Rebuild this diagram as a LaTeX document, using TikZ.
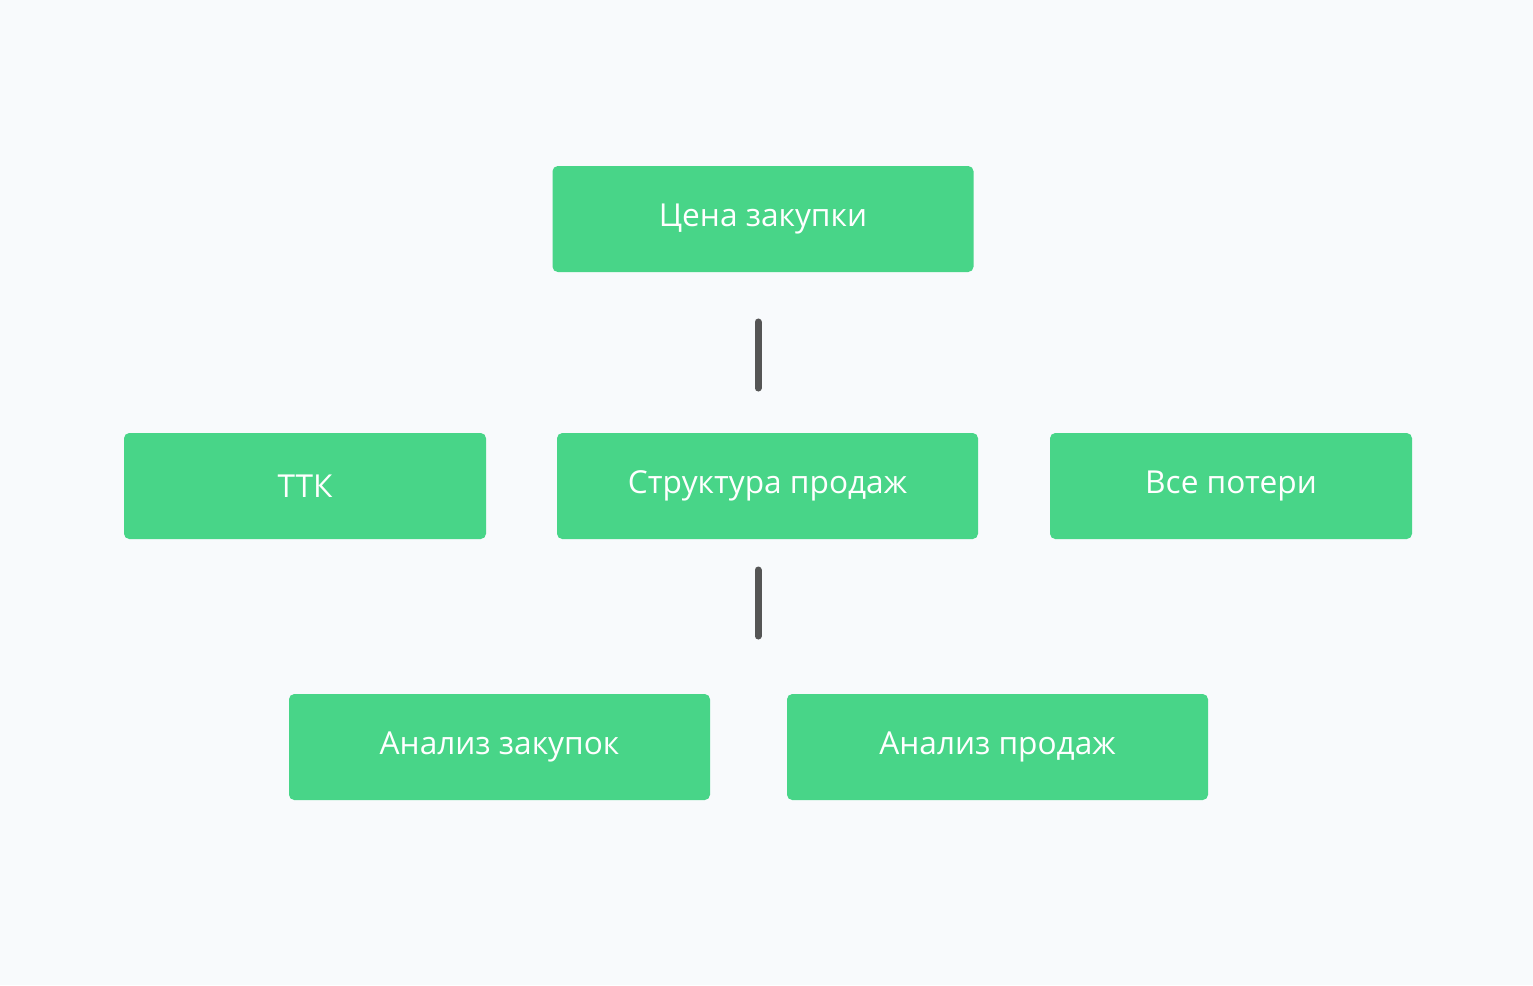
\documentclass[tikz,border=0pt]{standalone}
\usepackage{fontspec}
\setmainfont{Open Sans}
\definecolor{boxgreen}{HTML}{48D588}
\definecolor{bggray}{HTML}{F8FAFC}
\definecolor{stemgray}{HTML}{555555}
\begin{document}
\begin{tikzpicture}[
    x=0.02cm, y=-0.02cm,
    every node/.style={
        font=\fontsize{18}{20}\selectfont,
        text=white,
        fill=boxgreen,
        rounded corners=3pt,
        inner sep=0pt,
        minimum width=421*0.02cm,
        minimum height=106*0.02cm},
    stem/.style={draw=stemgray, line width=4pt, line cap=round}]
    \fill[bggray] (0,0) rectangle (1533,985);
    \useasboundingbox (0,0) rectangle (1533,985);

    \node (price) at (763,219) {Цена закупки};

    \node[minimum width=362*0.02cm] (ttk) at (305,486) {ТТК};
    \node (struct) at (767.5,486) {Структура продаж};
    \node[minimum width=362*0.02cm] (loss) at (1231,486) {Все потери};

    \node (buy) at (499.5,747) {Анализ закупок};
    \node (sell) at (997.5,747) {Анализ продаж};

    \coordinate (s1a) at (758,322);
    \coordinate (s1b) at (758,388);
    \coordinate (s2a) at (758,570);
    \coordinate (s2b) at (758,636);

    \draw[stem] (s1a) -- (s1b);
    \draw[stem] (s2a) -- (s2b);
\end{tikzpicture}
\end{document}
